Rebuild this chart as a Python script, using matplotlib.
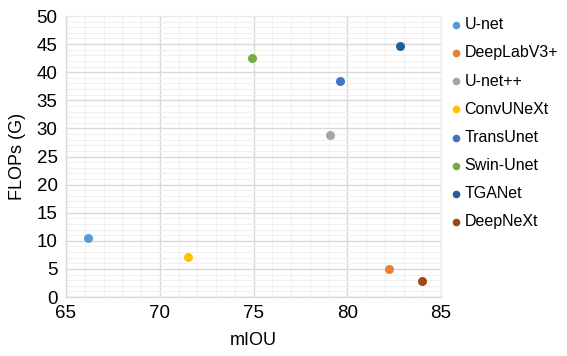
import matplotlib.pyplot as plt
from matplotlib.ticker import MultipleLocator

plt.rcParams['font.family'] = ['Liberation Sans', 'DejaVu Sans']

# values
models = ["U-net", "DeepLabV3+", "U-net++", "ConvUNeXt", "TransUnet",
          "Swin-Unet", "TGANet", "DeepNeXt"]
miou = [66.2, 82.2, 79.1, 71.5, 79.6, 74.9, 82.8, 84.0]
flops = [10.5, 5.0, 28.8, 7.2, 38.5, 42.6, 44.6, 2.9]
colors = ["#5B9BD5", "#ED7D31", "#A5A5A5", "#FFC000", "#4472C4",
          "#70AD47", "#255E91", "#9E480E"]

fig = plt.figure(figsize=(5.67, 3.56), dpi=100)
ax = fig.add_axes([0.1164, 0.1657, 0.6614, 0.7893])

for m, x, y, c in zip(models, miou, flops, colors):
    ax.scatter(x, y, s=42, color=c, label=m, zorder=3, linewidths=0)

ax.set_xlim(65, 85)
ax.set_ylim(0, 50)
ax.xaxis.set_major_locator(MultipleLocator(5))
ax.yaxis.set_major_locator(MultipleLocator(5))
ax.xaxis.set_minor_locator(MultipleLocator(1))
ax.yaxis.set_minor_locator(MultipleLocator(1))
ax.grid(True, which="major", color="#D9D9D9", linewidth=1.0)
ax.grid(True, which="minor", color="#F0F0F0", linewidth=0.8)
ax.set_axisbelow(True)

for s in ["top", "right"]:
    ax.spines[s].set_color("#EBEBEB")
for s in ["left", "bottom"]:
    ax.spines[s].set_color("#D9D9D9")
    ax.spines[s].set_linewidth(1.0)

ax.tick_params(which="both", length=0, labelsize=13.5, colors="#000000", pad=6)
ax.set_xlabel("mIOU", fontsize=13, labelpad=7)
ax.set_ylabel("FLOPs (G)", fontsize=13, labelpad=8)

ax.legend(loc="upper left", bbox_to_anchor=(0.99, 1.035), frameon=False,
          fontsize=11.5, handletextpad=0.0, labelspacing=0.82,
          markerscale=0.85, handlelength=1.0, borderaxespad=0.3)

fig.savefig("out.png", dpi=100)
